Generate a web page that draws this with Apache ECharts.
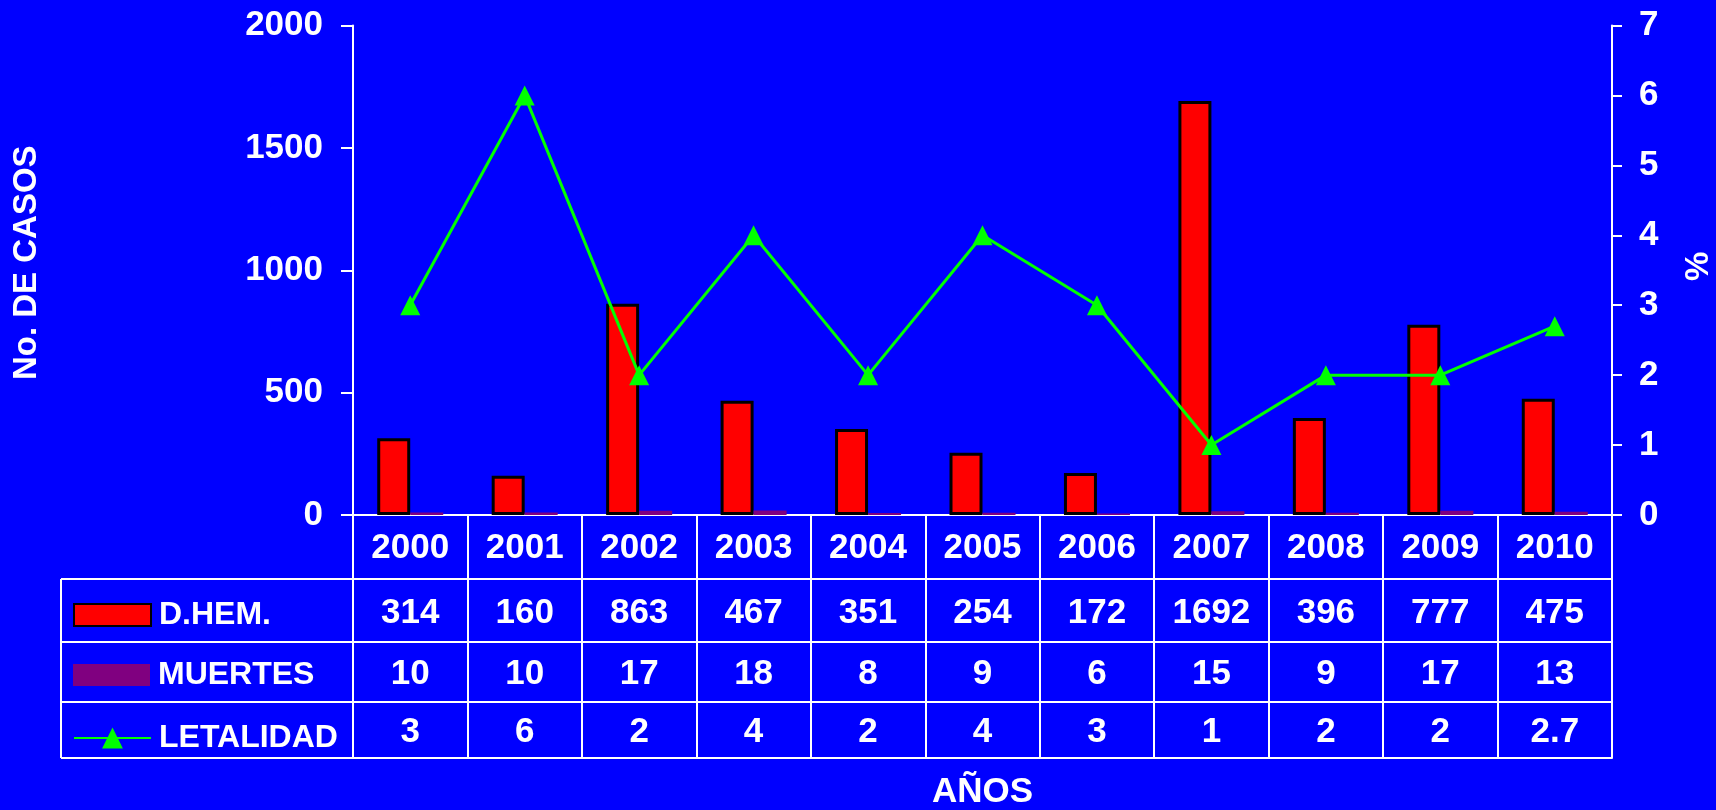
<!DOCTYPE html>
<html>
<head>
<meta charset="utf-8">
<script src="https://cdn.jsdelivr.net/npm/echarts@6/dist/echarts.min.js"></script>
<style>
html,body{margin:0;padding:0;background:#0000ff;}
#chart{width:1716px;height:810px;}
</style>
</head>
<body>
<div id="chart"></div>
<script>
// ---- data ----
const years = ['2000','2001','2002','2003','2004','2005','2006','2007','2008','2009','2010'];
const dhem = [314,160,863,467,351,254,172,1692,396,777,475];
const muertes = [10,10,17,18,8,9,6,15,9,17,13];
const letalidad = [3,6,2,4,2,4,3,1,2,2,2.7];
const leftTicks = {min:0, max:2000, interval:500};
const rightTicks = {min:0, max:7, interval:1};

// ---- layout ----
const FONT = "'Liberation Sans', Arial, sans-serif";
const G = {left:353, right:1612, top:25.5, bottom:515};
const rowLines = [515, 579, 642, 702, 758];
const rowShift = [1, 3, 2, 2];
const tableLeft = 61;
const W = '#ffffff';

function rowAxis(i, labels, extra) {
  const y0 = rowLines[i], y1 = rowLines[i+1];
  const len = y1 - y0;
  return Object.assign({
    type:'category', data:years, gridIndex:0, position:'bottom',
    offset: y0 - G.bottom,
    axisLine:{show:true, onZero:false, lineStyle:{color:W, width:2}},
    axisTick:{show:true, interval:0, length:len, lineStyle:{color:W, width:2}},
    axisLabel:{show:true, interval:0, margin:len/2 + rowShift[i], verticalAlign:'middle',
      formatter:(v, idx) => String(labels[idx]),
      color:W, fontSize:35, fontWeight:'bold', fontFamily:FONT},
    splitLine:{show:false}
  }, extra || {});
}

const chart = echarts.init(document.getElementById('chart'));
const axisText = {color:W, fontSize:35, fontWeight:'bold', fontFamily:FONT, formatter:(v) => String(v)};

const graphics = [];
[1,2,3,4].forEach(k => {
  graphics.push({type:'line', shape:{x1:tableLeft, y1:rowLines[k], x2:G.left, y2:rowLines[k]},
    style:{stroke:W, lineWidth:2}, z:10});
});
graphics.push({type:'line', shape:{x1:tableLeft, y1:rowLines[1], x2:tableLeft, y2:rowLines[4]},
  style:{stroke:W, lineWidth:2}, z:10});

function legendAt(name, centerY, extra) {
  return Object.assign({
    show:true, data:[name], orient:'vertical', left:68, top:centerY - 19,
    itemWidth:77, itemHeight:22, selectedMode:false,
    textStyle:{color:W, fontSize:32, lineHeight:32, fontWeight:'bold', fontFamily:FONT, padding:[0,0,0,3]}
  }, extra || {});
}

chart.setOption({
  backgroundColor:'#0000ff',
  animation:false,
  grid:{left:G.left, top:G.top, width:G.right - G.left, height:G.bottom - G.top,
        containLabel:false, outerBoundsMode:'none'},
  legend:[
    legendAt('D.HEM.', 613, {icon:'rect'}),
    legendAt('MUERTES', 673, {icon:'rect'}),
    legendAt('LETALIDAD', 736, {itemHeight:26})
  ],
  xAxis:[
    rowAxis(0, years),
    rowAxis(1, dhem),
    rowAxis(2, muertes),
    rowAxis(3, letalidad),
    {
      type:'category', data:years, gridIndex:0, position:'bottom',
      offset: rowLines[4] - G.bottom,
      axisLine:{show:true, onZero:false, lineStyle:{color:W, width:2}},
      axisTick:{show:false}, axisLabel:{show:false}, splitLine:{show:false},
      name:'AÑOS', nameLocation:'middle', nameGap:17,
      nameTextStyle:{color:W, fontSize:35, fontWeight:'bold', fontFamily:FONT}
    }
  ],
  yAxis:[
    {
      type:'value', min:leftTicks.min, max:leftTicks.max, interval:leftTicks.interval, position:'left',
      axisLine:{show:true, lineStyle:{color:W, width:2}},
      axisTick:{show:true, length:12, lineStyle:{color:W, width:2}},
      axisLabel:Object.assign({margin:30}, axisText),
      splitLine:{show:false},
      name:'No. DE CASOS', nameLocation:'middle', nameRotate:90, nameGap:310,
      nameTextStyle:{color:W, fontSize:33, fontWeight:'bold', fontFamily:FONT, padding:[0,0,0,15]}
    },
    {
      type:'value', min:rightTicks.min, max:rightTicks.max, interval:rightTicks.interval, position:'right',
      axisLine:{show:true, lineStyle:{color:W, width:2}},
      axisTick:{show:true, length:10, lineStyle:{color:W, width:2}},
      axisLabel:Object.assign({margin:27}, axisText),
      splitLine:{show:false},
      name:'%', nameLocation:'middle', nameRotate:90, nameGap:70,
      nameTextStyle:{color:W, fontSize:33, fontWeight:'bold', fontFamily:FONT, padding:[0,0,0,8]}
    }
  ],
  series:[
    {
      name:'D.HEM.', type:'bar', xAxisIndex:0, yAxisIndex:0, data:dhem,
      barWidth:33, barGap:'0%',
      itemStyle:{color:'#ff0000', borderColor:'#000000', borderWidth:3},
      z:2
    },
    {
      name:'MUERTES', type:'bar', xAxisIndex:0, yAxisIndex:0, data:muertes,
      barWidth:33, barGap:'0%',
      itemStyle:{color:'#800080'},
      z:2
    },
    {
      name:'LETALIDAD', type:'line', xAxisIndex:0, yAxisIndex:1, data:letalidad,
      symbol:'triangle', symbolSize:20, showSymbol:true,
      lineStyle:{color:'#00ff00', width:3},
      itemStyle:{color:'#00ff00'},
      z:5
    }
  ],
  graphic:graphics
});
</script>
</body>
</html>
